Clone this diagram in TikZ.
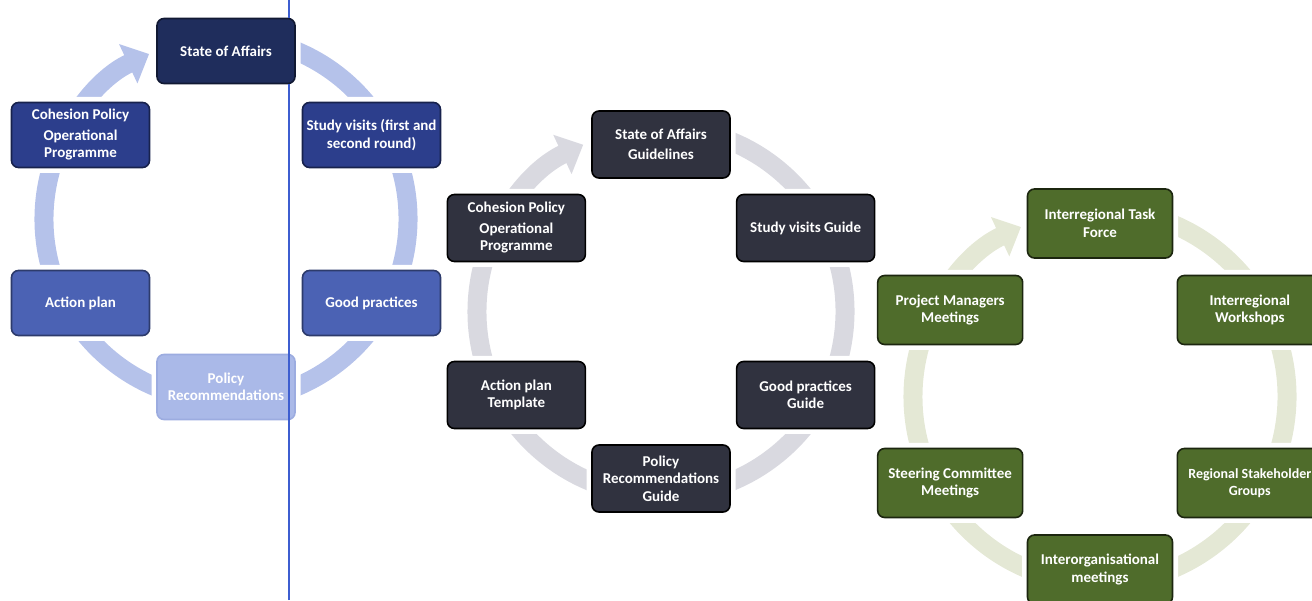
\documentclass[tikz,border=0pt]{standalone}
\usepackage{fontspec}
\setmainfont{Carlito}
\usepackage{tikz}
\usetikzlibrary{calc,arrows.meta}
\definecolor{navyc}{HTML}{1F2D5C}
\definecolor{royalc}{HTML}{2C3E8C}
\definecolor{midbl}{HTML}{4B62B4}
\definecolor{palebl}{HTML}{AAB9E8}
\definecolor{ringbl}{HTML}{B5C2EA}
\definecolor{slatec}{HTML}{30323F}
\definecolor{ringgr}{HTML}{D9D9E0}
\definecolor{olivec}{HTML}{4F6C2B}
\definecolor{ringol}{HTML}{E4E8D5}
\definecolor{rulebl}{HTML}{3D5ED0}
\tikzset{
  card/.style={rounded corners=7pt,line width=1.6pt,text=white,align=center,inner sep=2pt,
    font=\bfseries\fontsize{15}{17.5}\selectfont,minimum width=138pt,minimum height=65pt,
    preaction={draw=white,line width=11pt}},
  bnavy/.style={card,fill=navyc,draw=navyc!55!black},
  broyal/.style={card,fill=royalc,draw=royalc!55!black},
  bmid/.style={card,fill=midbl,draw=midbl!60!black},
  bpale/.style={card,fill=palebl,draw=palebl!85!midbl},
  dslate/.style={card,fill=slatec,draw=black,minimum height=67pt},
  golive/.style={card,fill=olivec,draw=olivec!35!black,minimum width=145pt,minimum height=69pt},
  ring/.style={draw=#1,line width=19pt,-{Triangle[width=42pt,length=23pt]}}
}
% ring arrow round a centre: #1 centre, #2 radius, #3 colour
\newcommand{\ringarrow}[3]{\draw[ring=#3] ($(#1)+(80:#2)$) arc[start angle=80,end angle=-245,radius=#2];}

\begin{document}
\begin{tikzpicture}[x=1pt,y=1pt]
\useasboundingbox (0,0) rectangle (1312,600);
\clip (0,0) rectangle (1312,600);
% blue cycle
\coordinate (bc) at (226,381);
\ringarrow{bc}{182}{ringbl}
\begin{scope}[shift={(bc)}]
\node[bnavy] (bstate) at (90:168) {State of Affairs};
\node[broyal] (bcohes) at (150:168) {Cohesion Policy\\[3pt]Operational\\Programme};
\node[broyal] (bstudy) at (30:168) {Study visits (first and\\second round)};
\node[bmid] (baction) at (210:168) {Action plan};
\node[bmid] (bgood) at (-30:168) {Good practices};
\node[bpale] (bpolicy) at (270:168) {Policy\\Recommendations};
\end{scope}
% dark cycle
\coordinate (dc) at (661,288.5);
\ringarrow{dc}{184}{ringgr}
\begin{scope}[shift={(dc)}]
\node[dslate] (dstate) at (90:167) {State of Affairs\\[3pt]Guidelines};
\node[dslate] (dcohes) at (150:167) {Cohesion Policy\\[3pt]Operational\\Programme};
\node[dslate] (dstudy) at (30:167) {Study visits Guide};
\node[dslate] (daction) at (210:167) {Action plan\\Template};
\node[dslate] (dgood) at (-30:167) {Good practices\\Guide};
\node[dslate] (dpolicy) at (270:167) {Policy\\Recommendations\\Guide};
\end{scope}
% green cycle
\coordinate (gc) at (1100,203.5);
\ringarrow{gc}{187}{ringol}
\begin{scope}[shift={(gc)}]
\node[golive] (gtask) at (90:173) {Interregional Task\\Force};
\node[golive] (gmanag) at (150:173) {Project Managers\\Meetings};
\node[golive] (gworks) at (30:173) {Interregional\\Workshops};
\node[golive] (gsteer) at (210:173) {Steering Committee\\Meetings};
\node[golive,font=\bfseries\fontsize{14}{17.5}\selectfont] (gstake) at (-30:173) {Regional Stakeholder\\Groups};
\node[golive] (ginter) at (270:173) {Interorganisational\\meetings};
\end{scope}
% divider, broken by the top box
\coordinate (rtop) at (289,600);
\coordinate (rbot) at (289,0);
\draw[rulebl,line width=1.2pt] (rtop) -- (rtop |- bstate.north);
\draw[rulebl,line width=1.2pt] (rbot) -- (rbot |- bstate.south);
\end{tikzpicture}
\end{document}
